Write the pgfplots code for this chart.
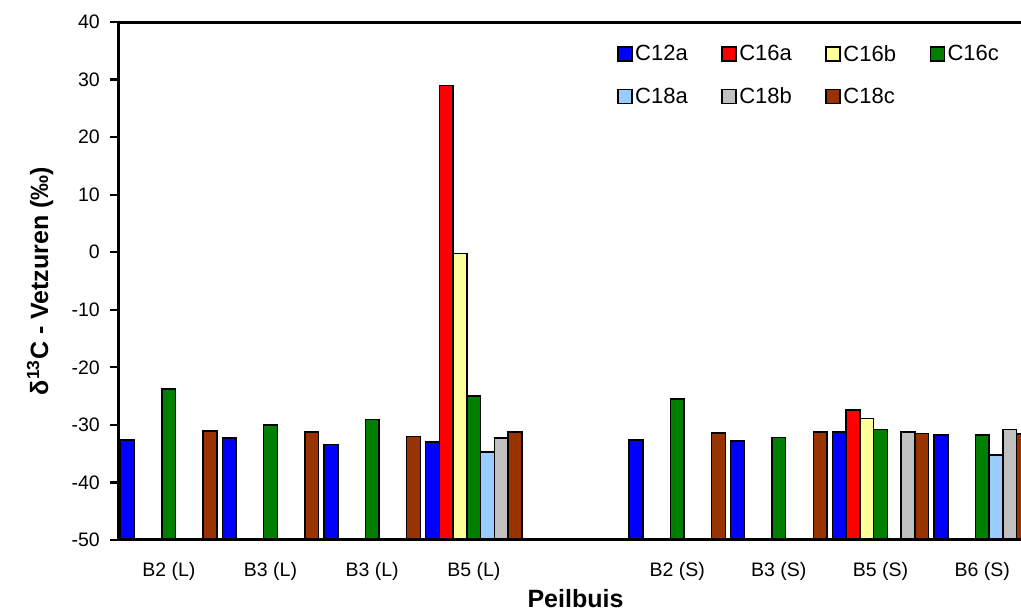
\documentclass[border=0pt]{standalone}
\usepackage{fontspec}
\setmainfont{Liberation Sans}
\usepackage{pgfplots}
\pgfplotsset{compat=1.18}
\definecolor{cA}{HTML}{0000FF}
\definecolor{cB}{HTML}{FF0000}
\definecolor{cC}{HTML}{FFFF99}
\definecolor{cD}{HTML}{008000}
\definecolor{cE}{HTML}{99CCFF}
\definecolor{cF}{HTML}{C0C0C0}
\definecolor{cG}{HTML}{993300}
\begin{document}
\begin{tikzpicture}[x=1pt,y=1pt]
\useasboundingbox (0,0) rectangle (1021,613);
\begin{axis}[
  at={(118pt,73pt)}, anchor=south west,
  scale only axis, width=915pt, height=518pt,
  xmin=-0.5, xmax=8.5, ymin=-50, ymax=40,
  y coord trafo/.code={\pgfmathparse{#1+50}},
  y coord inv trafo/.code={\pgfmathparse{#1-50}},
  ybar, bar width=0.1354,
  axis on top,
  axis line style={line width=3pt},
  tick align=outside,
  xtick={0,1,2,3,4,5,6,7,8},
  xticklabels={B2 (L),B3 (L),B3 (L),B5 (L),,B2 (S),B3 (S),B5 (S),B6 (S)},
  xtick style={draw=none},
  minor xtick={-0.5,0.5,...,8.5},
  minor tick length=6pt,
  minor x tick style={line width=2.2pt, black},
  ytick={-50,-40,-30,-20,-10,0,10,20,30,40},
  major tick length=8pt,
  y tick style={line width=2.2pt, black},
  xtick pos=lower, ytick pos=left,
  /pgf/number format/assume math mode=true,
  xticklabel style={font=\fontsize{19.5}{22}\selectfont, anchor=north, inner sep=0pt, yshift=-14pt},
  yticklabel style={font=\fontsize{19.5}{22}\selectfont, anchor=east, inner sep=0pt, xshift=-10pt},
  xlabel={Peilbuis},
  ylabel={δ\textsuperscript{13}C - Vetzuren (‰)},
  every axis x label/.style={at={([yshift=-68pt]axis description cs:0.5,0)}, anchor=base, font=\fontsize{25}{28}\selectfont\bfseries},
  every axis y label/.style={at={([xshift=-78pt]axis description cs:0,0.5)}, anchor=center, rotate=90, font=\fontsize{25}{28}\selectfont\bfseries},
  every axis plot/.append style={draw=black, line width=1.5pt},
  legend image code/.code={\draw[#1, line width=1.5pt] (0pt,-7pt) rectangle (14pt,7pt);},
  legend columns=4,
  legend style={draw=none, fill=none, at={(axis description cs:0.5454,0.9595)}, anchor=north west,
    inner sep=0pt, font=\fontsize{22}{25}\selectfont, cells={anchor=west},
    nodes={inner xsep=2.5pt, inner ysep=2pt},
    row sep=21pt,
    /tikz/every even column/.append style={column sep=31pt}},
]
\addplot[fill=cA, bar shift=-0.4062] coordinates {(0,-32.6) (1,-32.3) (2,-33.4) (3,-33.0) (5,-32.6) (6,-32.8) (7,-31.2) (8,-31.75)};
\addplot[fill=cB, bar shift=-0.2708] coordinates {(3,29.0) (7,-27.4)};
\addplot[fill=cC, bar shift=-0.1354] coordinates {(3,-0.2) (7,-28.9)};
\addplot[fill=cD, bar shift=0] coordinates {(0,-23.8) (1,-30.0) (2,-29.1) (3,-25.0) (5,-25.5) (6,-32.2) (7,-30.8) (8,-31.75)};
\addplot[fill=cE, bar shift=0.1354] coordinates {(3,-34.7) (8,-35.2)};
\addplot[fill=cF, bar shift=0.2708] coordinates {(3,-32.3) (7,-31.2) (8,-30.8)};
\addplot[fill=cG, bar shift=0.4062] coordinates {(0,-31.1) (1,-31.2) (2,-32.0) (3,-31.2) (5,-31.4) (6,-31.2) (7,-31.5) (8,-31.6)};
\legend{C12a,C16a,C16b,C16c,C18a,C18b,C18c}
\end{axis}
\end{tikzpicture}
\end{document}
